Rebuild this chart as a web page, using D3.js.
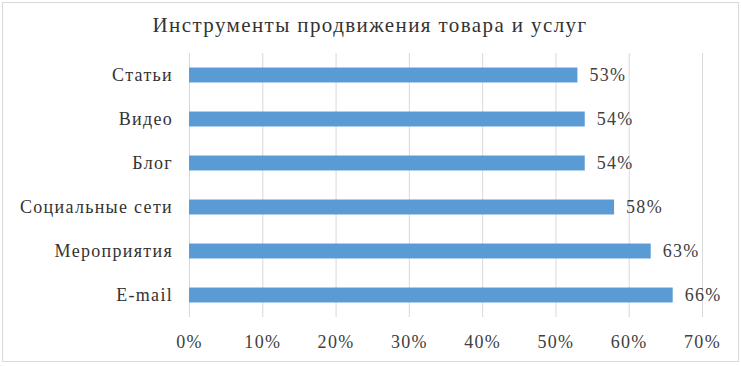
<!DOCTYPE html>
<html>
<head>
<meta charset="utf-8">
<script src="https://cdn.jsdelivr.net/npm/d3@7"></script>
<style>
  body { margin: 0; background: #fff; }
  .grid line { stroke: #d9d9d9; stroke-width: 1; }
</style>
</head>
<body>
<div id="chart"></div>
<script>
const categories = ["Статьи", "Видео", "Блог", "Социальные сети", "Мероприятия", "E-mail"];
const values = [0.53, 0.54, 0.54, 0.58, 0.63, 0.66];
const xTicks = [0, 0.1, 0.2, 0.3, 0.4, 0.5, 0.6, 0.7];
const title = "Инструменты продвижения товара и услуг";

const FONT = "'Liberation Serif', 'Times New Roman', Times, serif";

const W = 741, H = 366;
const margin = { top: 53, right: 39, bottom: 49, left: 189 };
const width = W - margin.left - margin.right,
  height = H - margin.top - margin.bottom;

const svg = d3.select("#chart").append("svg")
  .attr("width", W).attr("height", H)
  .attr("font-family", FONT);

// outer frame
svg.append("rect")
  .attr("x", 2.5).attr("y", 2.5)
  .attr("width", W - 5).attr("height", H - 7)
  .attr("fill", "#fff").attr("stroke", "#d9d9d9");

svg.append("text")
  .attr("x", 370).attr("y", 32)
  .attr("text-anchor", "middle")
  .attr("fill", "#333")
  .style("font-family", FONT)
  .style("font-size", "21px")
  .style("letter-spacing", "1.4px")
  .text(title);

const g = svg.append("g").attr("transform", `translate(${margin.left},${margin.top})`);

const x = d3.scaleLinear().domain([0, 0.7]).range([0, width]);
const y = d3.scaleBand().domain(categories).range([0, height]).paddingInner(0.66).paddingOuter(0.33);

// gridlines
g.append("g").attr("class", "grid")
  .selectAll("line").data(xTicks).enter().append("line")
  .attr("x1", d => x(d) + 0.5).attr("x2", d => x(d) + 0.5)
  .attr("y1", 0).attr("y2", height);

// x axis labels
g.append("g")
  .attr("transform", `translate(0,${height})`)
  .call(d3.axisBottom(x).tickValues(xTicks).tickFormat(d3.format(".0%")).tickSize(0).tickPadding(18))
  .call(a => a.select(".domain").remove())
  .attr("font-family", null)
  .selectAll("text")
  .style("font-family", FONT)
  .style("font-size", "18px")
  .style("letter-spacing", "1.3px")
  .attr("fill", "#404040");

// category labels
g.append("g")
  .call(d3.axisLeft(y).tickSize(0).tickPadding(16))
  .call(a => a.select(".domain").remove())
  .attr("font-family", null)
  .selectAll("text")
  .style("font-family", FONT)
  .style("font-size", "18px")
  .style("letter-spacing", "1.3px")
  .attr("fill", "#333");

// bars
g.selectAll(".bar").data(categories).enter().append("rect")
  .attr("class", "bar")
  .attr("x", 0)
  .attr("y", d => y(d))
  .attr("width", (d, i) => x(values[i]))
  .attr("height", y.bandwidth())
  .attr("fill", "#5b9bd5");

// value labels
g.selectAll(".val").data(categories).enter().append("text")
  .attr("class", "val")
  .attr("x", (d, i) => x(values[i]) + 12)
  .attr("y", d => y(d) + y.bandwidth() / 2)
  .attr("dy", "0.35em")
  .attr("fill", "#404040")
  .style("font-family", FONT)
  .style("font-size", "18px")
  .style("letter-spacing", "1.3px")
  .text((d, i) => d3.format(".0%")(values[i]));
</script>
</body>
</html>
